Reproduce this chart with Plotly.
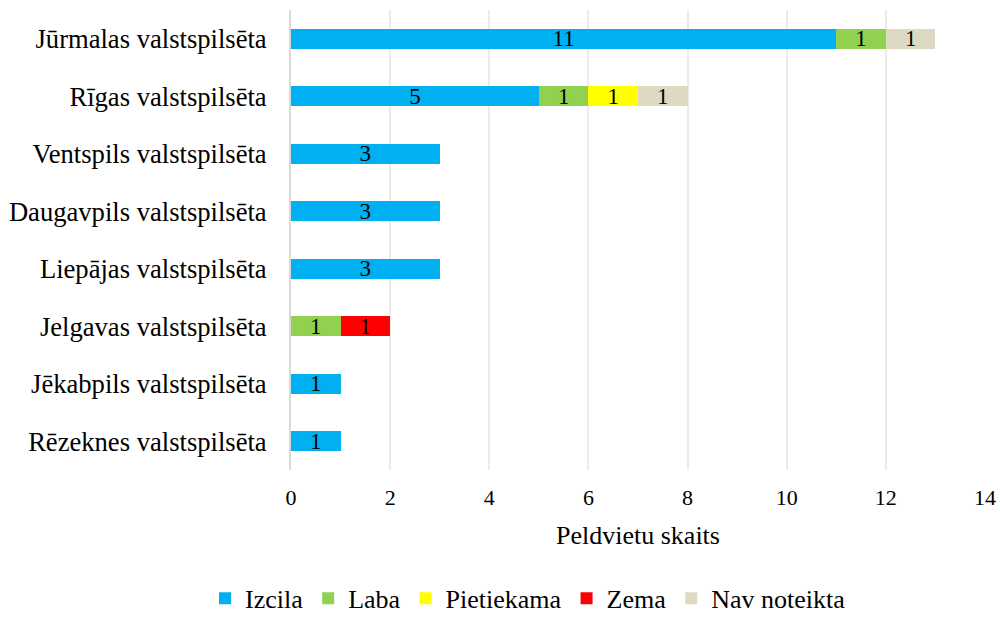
import plotly.graph_objects as go

categories = ["Jūrmalas valstspilsēta", "Rīgas valstspilsēta", "Ventspils valstspilsēta",
              "Daugavpils valstspilsēta", "Liepājas valstspilsēta", "Jelgavas valstspilsēta",
              "Jēkabpils valstspilsēta", "Rēzeknes valstspilsēta"]
izcila = [11, 5, 3, 3, 3, 0, 1, 1]
laba = [1, 1, 0, 0, 0, 1, 0, 0]
pietiekama = [0, 1, 0, 0, 0, 0, 0, 0]
zema = [0, 0, 0, 0, 0, 1, 0, 0]
nav_noteikta = [1, 1, 0, 0, 0, 0, 0, 0]

series = [
    ("Izcila", izcila, "#00b0f0"),
    ("Laba", laba, "#92d050"),
    ("Pietiekama", pietiekama, "#ffff00"),
    ("Zema", zema, "#ff0000"),
    ("Nav noteikta", nav_noteikta, "#ddd9c3"),
]

FONT = "Liberation Serif, Times New Roman, serif"
fig = go.Figure()
for name, vals, color in series:
    fig.add_trace(go.Bar(
        y=categories, x=vals, name=name, orientation="h",
        marker=dict(color=color, line=dict(width=0)),
        text=[str(v) if v else "" for v in vals],
        textposition="inside", insidetextanchor="middle", textangle=0,
        constraintext="none",
        textfont=dict(family=FONT, size=23, color="black"),
        width=0.35,
    ))

fig.update_layout(
    barmode="stack",
    width=1000, height=640,
    margin=dict(l=291, r=15, t=10, b=170),
    plot_bgcolor="white", paper_bgcolor="white",
    font=dict(family=FONT, size=26, color="black"),
    xaxis=dict(range=[0, 14], dtick=2, showgrid=True, gridcolor="#ebebeb", gridwidth=1.5,
               zeroline=False, ticks="", tickfont=dict(size=22), automargin=False,
               ticklabelstandoff=12,
               title=dict(text="Peldvietu skaits", font=dict(size=26), standoff=16)),
    yaxis=dict(autorange="reversed", showline=True, linecolor="#d9d9d9", linewidth=2,
               ticks="", ticklabelstandoff=17, tickfont=dict(size=26.6), automargin=False),
    legend=dict(orientation="h", x=0.3415, xanchor="center", y=-0.279, yanchor="middle",
                font=dict(size=26), traceorder="normal", itemwidth=30),
)
fig.write_html("out.html", config={"displayModeBar": False},
               post_script="document.body.style.margin='0';document.body.style.overflow='hidden';"
                           "document.documentElement.style.overflow='hidden';")
